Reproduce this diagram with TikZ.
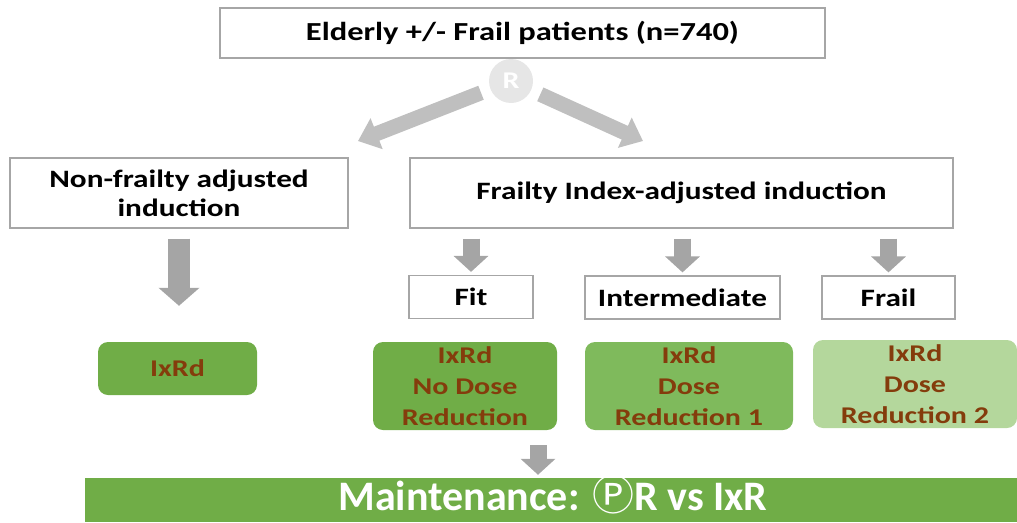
\documentclass[tikz,border=0pt]{standalone}
\usepackage{fontspec}
\setmainfont{Carlito}[FakeStretch=1.25]
\newfontfamily\maintfont{Carlito}
\newfontfamily\circfont{Noto Sans CJK SC}
\usetikzlibrary{arrows.meta}
\definecolor{boxgray}{HTML}{A6A6A6}
\definecolor{arrowgray}{HTML}{A5A5A5}
\definecolor{diaggray}{HTML}{BFBFBF}
\definecolor{rgray}{HTML}{E6E6E6}
\definecolor{darkgreen}{HTML}{70AD47}
\definecolor{midgreen}{HTML}{7FBA5C}
\definecolor{palegreen}{HTML}{B4D79C}
\definecolor{doserust}{HTML}{843C0C}

\begin{document}
\begin{tikzpicture}[x=1pt,y=-1pt,
    whitebox/.style={draw=boxgray,line width=1.2pt,fill=white,inner sep=0pt,align=center,
      font=\bfseries\fontsize{25}{29}\selectfont},
    greenbox/.style={rounded corners=10pt,inner sep=0pt,align=center,text=doserust,
      font=\bfseries\fontsize{24}{31}\selectfont},
    bigarrow/.style={draw=arrowgray,line width=22pt,-{Triangle[width=40pt,length=18pt]}},
    smallarrow/.style={draw=arrowgray,line width=17pt,-{Triangle[width=34pt,length=16pt]}},
    diagarrow/.style={draw=diaggray,line width=15pt,-{Triangle[width=32pt,length=20pt]}}]
    \useasboundingbox (0,0) rectangle (1017,522);
    \node[whitebox,minimum width=605pt,minimum height=50pt,font=\bfseries\fontsize{26}{30}\selectfont] (elderly) at (522.5,33) {Elderly +/- Frail patients (n=740)};
    \node[circle,fill=rgray,minimum size=44pt,inner sep=0pt,text=white,
      font=\bfseries\fontsize{24}{24}\selectfont] (rand) at (511,81) {R};
    \coordinate (lefttip) at (358,141);
    \coordinate (righttip) at (643,141);
    \draw[diagarrow,shorten <=10pt] (rand) -- (lefttip);
    \draw[diagarrow,shorten <=10pt] (rand) -- (righttip);
    \node[whitebox,minimum width=338pt,minimum height=70pt] (nonfrail) at (179,193) {Non-frailty adjusted\\induction};
    \node[whitebox,minimum width=543pt,minimum height=70pt] (frailty) at (681.5,193) {Frailty Index-adjusted induction};
    \node[whitebox,minimum width=124pt,minimum height=43pt] (fit) at (471,297) {Fit};
    \node[whitebox,minimum width=195pt,minimum height=43pt] (inter) at (682.5,297.5) {Intermediate};
    \node[whitebox,minimum width=133pt,minimum height=43pt] (frail) at (888.5,297.5) {Frail};
    \node[greenbox,fill=darkgreen,minimum width=159pt,minimum height=53pt] (ixrd) at (177.5,368.5) {IxRd};
    \node[greenbox,fill=darkgreen,minimum width=184pt,minimum height=88pt] (fitdose) at (465,386) {IxRd\\No Dose\\Reduction};
    \node[greenbox,fill=midgreen,minimum width=208pt,minimum height=88pt] (interdose) at (689,386) {IxRd\\Dose\\Reduction 1};
    \node[greenbox,fill=palegreen,minimum width=204pt,minimum height=88pt] (fraildose) at (915,384) {IxRd\\Dose\\Reduction 2};
    \draw[bigarrow,shorten <=10pt,shorten >=36pt] (nonfrail.south) -- (nonfrail.south |- ixrd.north);
    \foreach \cat in {fit,inter,frail}
      \draw[smallarrow,shorten <=10pt,shorten >=3pt] (\cat.north |- frailty.south) -- (\cat.north);
    \node[fill=darkgreen,minimum width=936pt,minimum height=44pt,inner sep=0pt,text=white,
      text height=29pt,text depth=8pt,
      font=\maintfont\bfseries\fontsize{42}{42}\selectfont] (maint) at (553,500) {Maintenance: {\circfont\mdseries Ⓟ}R vs IxR};
    \coordinate (joinpt) at (538,430);
    \draw[smallarrow,shorten <=15pt,shorten >=3pt] (joinpt) -- (joinpt |- maint.north);
\end{tikzpicture}
\end{document}
